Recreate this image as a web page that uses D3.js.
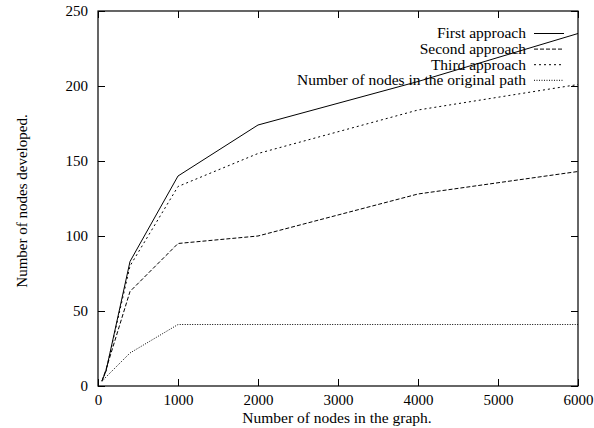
<!DOCTYPE html>
<html>
<head>
<meta charset="utf-8">
<script src="https://cdn.jsdelivr.net/npm/d3@7"></script>
<style>
  body { margin: 0; background: #fff; }
  text { font-family: "Liberation Serif", "DejaVu Serif", "Times New Roman", serif; font-size: 15.5px; fill: #000; }
</style>
</head>
<body>
<div id="chart"></div>
<script>
// node counts in the graph
var nodes = [50, 100, 400, 1000, 2000, 4000, 6000]

var firstApproach  = [3.5, 10, 83, 140, 174, 203, 235]
var secondApproach = [3.5, 11, 63, 95, 100, 128, 143]
var thirdApproach  = [3.5, 10, 80, 133, 155, 184, 201]
var originalPath   = [3, 6, 22, 41, 41, 41, 41]

var seriesNames = ['First approach', 'Second approach', 'Third approach', 'Number of nodes in the original path']
var dashes = [null, '4,2', '2,3', '1,1.5']

var xTicks = [0, 1000, 2000, 3000, 4000, 5000, 6000]
var yTicks = [0, 50, 100, 150, 200, 250]

var width = 594, height = 428
var margin = {left: 98, right: 16, top: 11, bottom: 42}
var w = width - margin.left - margin.right
var h = height - margin.top - margin.bottom

var svg = d3.select('#chart').append('svg')
  .attr('width', width).attr('height', height)

var g = svg.append('g').attr('transform', 'translate(' + margin.left + ',' + margin.top + ')')

var x = d3.scaleLinear().domain([0, 6000]).range([0, w])
var y = d3.scaleLinear().domain([0, 250]).range([h, 0])

// ticks: inward on all four sides, like gnuplot
var tickLen = 7
g.append('g').attr('transform', 'translate(0,' + h + ')')
  .call(d3.axisBottom(x).tickValues(xTicks).tickSizeInner(-tickLen).tickSizeOuter(0).tickPadding(8).tickFormat(d3.format('d')))
g.append('g')
  .call(d3.axisTop(x).tickValues(xTicks).tickSizeInner(-tickLen).tickSizeOuter(0).tickFormat(''))
g.append('g')
  .call(d3.axisLeft(y).tickValues(yTicks).tickSizeInner(-tickLen).tickSizeOuter(0).tickPadding(10))
g.append('g').attr('transform', 'translate(' + w + ',0)')
  .call(d3.axisRight(y).tickValues(yTicks).tickSizeInner(-tickLen).tickSizeOuter(0).tickFormat(''))

g.selectAll('.domain').remove()
g.selectAll('.tick line').attr('stroke', '#000')
g.selectAll('.tick text')
  .attr('font-family', null).attr('font-size', null)
  .style('font-size', '15px')
  .style('font-family', '"Liberation Serif", "DejaVu Serif", serif')
g.selectAll('g').attr('font-family', null).attr('font-size', null)

g.append('rect')
  .attr('width', w).attr('height', h)
  .attr('fill', 'none').attr('stroke', '#000').attr('stroke-width', 1.2)

var line = d3.line().x(function(d){ return x(d[0]) }).y(function(d){ return y(d[1]) })

var allSeries = [firstApproach, secondApproach, thirdApproach, originalPath]

allSeries.forEach(function(vals, i){
  g.append('path')
    .attr('d', line(nodes.map(function(n, j){ return [n, vals[j]] })))
    .attr('fill', 'none')
    .attr('stroke', '#000')
    .attr('stroke-width', 1)
    .attr('stroke-dasharray', dashes[i])
})

// legend, top right
var legend = g.append('g')
seriesNames.forEach(function(name, i){
  var ly = 22.5 + i * 15.6
  legend.append('text')
    .attr('x', 428).attr('y', ly).attr('dy', '0.32em')
    .attr('text-anchor', 'end')
    .text(name)
  legend.append('line')
    .attr('x1', 436).attr('x2', 466).attr('y1', ly).attr('y2', ly)
    .attr('stroke', '#000').attr('stroke-width', 1)
    .attr('stroke-dasharray', dashes[i])
})

svg.append('text')
  .attr('x', margin.left + w / 2 - 1).attr('y', 423)
  .attr('text-anchor', 'middle')
  .text('Number of nodes in the graph.')

svg.append('text')
  .attr('transform', 'translate(27,201) rotate(-90)')
  .attr('text-anchor', 'middle')
  .style('font-size', '15px')
  .text('Number of nodes developed.')
</script>
</body>
</html>
